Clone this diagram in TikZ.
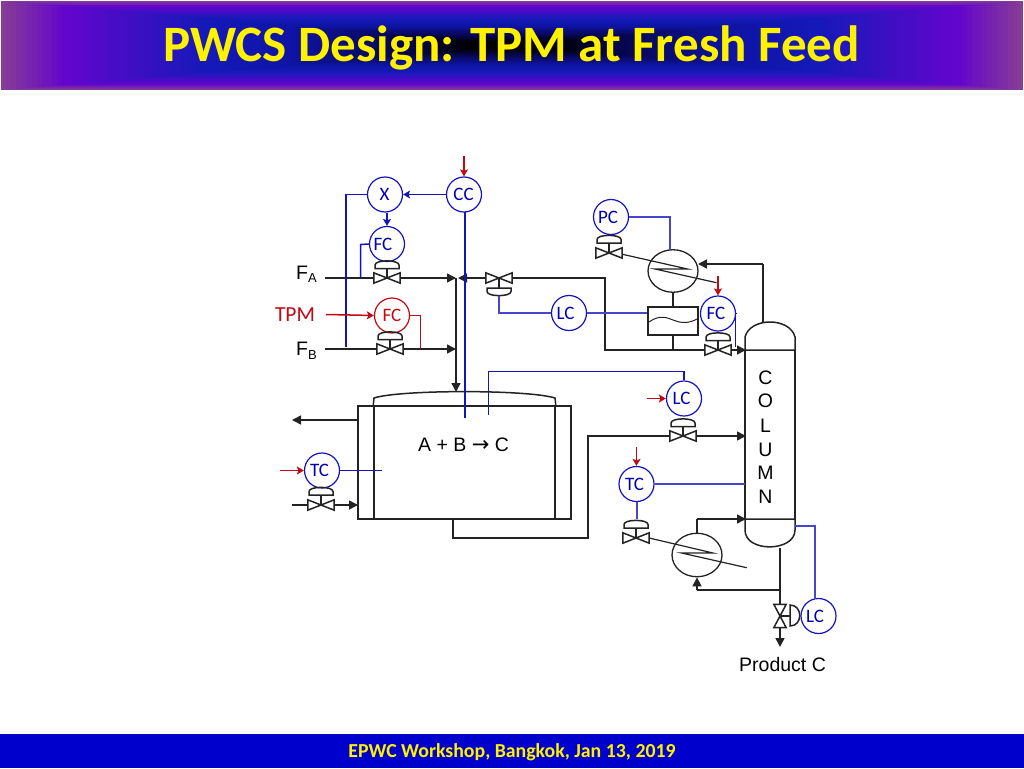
\documentclass[tikz,border=0pt]{standalone}
\usepackage{fontspec}
\setmainfont{Liberation Sans}
\newfontfamily\calfont{Carlito}
\newfontfamily\arrowfont{DejaVu Sans}
\usetikzlibrary{arrows.meta,shapes.geometric}
\definecolor{ctlblue}{RGB}{20,20,190}
\definecolor{ctllight}{RGB}{70,70,205}
\definecolor{txtblue}{RGB}{0,0,175}
\definecolor{ctlred}{RGB}{192,10,20}
\definecolor{pipeblk}{RGB}{35,35,35}
\definecolor{footblue}{RGB}{0,0,205}
\tikzset{
  x=1pt,y=-1pt,
  pipe/.style={draw=pipeblk,line width=1.5pt},
  feed/.style={pipe,-{Triangle[length=9pt,width=9pt]}},
  sig/.style={draw=ctlblue,line width=1.5pt},
  sigl/.style={draw=ctllight,line width=1.5pt},
  sigarrow/.style={sig,-{Stealth[length=7pt,width=8pt,inset=1.5pt]}},
  redarrow/.style={draw=ctlred,line width=1.5pt,-{Stealth[length=7pt,width=8pt,inset=1.5pt]}},
  redsig/.style={draw=ctlred,line width=1.5pt},
  ctrl/.style={circle,draw=ctlblue,line width=1.2pt,minimum size=35pt,inner sep=0pt,text=txtblue,font=\calfont\fontsize{19}{20}\selectfont},
  redctrl/.style={ctrl,draw=ctlred,text=ctlred},
  vbox/.style={inner sep=0pt,minimum width=26pt,minimum height=10pt},
  vvbox/.style={inner sep=0pt,minimum width=12pt,minimum height=23pt},
  lab/.style={font=\fontsize{19.5}{20}\selectfont,inner sep=0pt},
}
\newcommand\lft[2]{#2\kern#1pt}
\newcommand\valveH[3]{\node[vbox] (#1) at (#2,#3) {};
  \draw[pipe] (#1.north west)--(#1.south east)--(#1.north east)--(#1.south west)--cycle;}
\newcommand\valveV[3]{\node[vvbox] (#1) at (#2,#3) {};
  \draw[pipe] (#1.north west)--(#1.south east)--(#1.south west)--(#1.north east)--cycle;}
% actuator above valve: x, flat-bottom y
\newcommand\actUp[2]{\begin{scope}[shift={(#1,#2)}]
  \draw[pipe] (-12,0)--(12,0)--(12,-3.5) .. controls (12,-9) and (-12,-9) .. (-12,-3.5)--cycle;\end{scope}}
\newcommand\actDown[2]{\begin{scope}[shift={(#1,#2)}]
  \draw[pipe] (-12,0)--(12,0)--(12,3.5) .. controls (12,9) and (-12,9) .. (-12,3.5)--cycle;\end{scope}}
\newcommand\bannerseg[5]{% t0 t1 colour0 colour1 steps
  \foreach \i in {0,...,#5}{
    \pgfmathsetmacro\t{#1+(#2-#1)*\i/#5}
    \pgfmathsetmacro\pc{100*\i/#5}
    \colorlet{bgc}{#4!\pc!#3}
    \fill[bgc] ({1+\t*511},{1+\t*44.5}) rectangle ({1023-\t*511},{90-\t*44.5});
  }}
\definecolor{b0}{RGB}{135,60,150}
\definecolor{b1}{RGB}{100,5,205}
\definecolor{b2}{RGB}{20,25,185}
\definecolor{b3}{RGB}{15,20,165}
\definecolor{b4}{RGB}{5,5,70}
\definecolor{b5}{RGB}{0,0,0}
\begin{document}
\begin{tikzpicture}
\useasboundingbox (0,0) rectangle (1024,768);
\fill[white] (0,0) rectangle (1024,768);
% banner
\bannerseg{0}{0.12}{b0}{b1}{12}
\bannerseg{0.12}{0.4}{b1}{b2}{28}
\bannerseg{0.4}{0.56}{b2}{b3}{16}
\bannerseg{0.56}{0.8}{b3}{b4}{24}
\bannerseg{0.8}{0.92}{b4}{b5}{12}
\bannerseg{0.92}{1}{b5}{b5}{8}
\node[text=yellow,inner sep=0pt,font=\calfont\bfseries\fontsize{51}{52}\selectfont] (title) at (511.5,47.5) {PWCS Design: TPM at Fresh Feed};
% footer
\fill[footblue] (0,734) rectangle (1024,768);
\node[text=yellow,inner sep=0pt,font=\calfont\bfseries\fontsize{19.8}{20}\selectfont] (foot) at (512,752) {EPWC Workshop, Bangkok, Jan 13, 2019};

% controllers
\node[ctrl] (X) at (385,194.5) {\lft{1}{X}};
\node[ctrl] (CC) at (464,194.5) {\lft{1}{CC}};
\node[ctrl] (FCa) at (387,244) {\lft{8}{FC}};
\node[redctrl] (FCb) at (392,315.5) {FC};
\node[ctrl] (PC) at (611,217) {\lft{6}{PC}};
\node[ctrl] (LCa) at (569,313) {\lft{7}{LC}};
\node[ctrl] (FCc) at (718,313.5) {\lft{4}{FC}};
\node[ctrl] (LCb) at (684,398.5) {\lft{5}{LC}};
\node[ctrl] (TCa) at (322,470.5) {\lft{5}{TC}};
\node[ctrl] (TCb) at (636.5,484) {\lft{4}{TC}};
\node[ctrl] (LCc) at (818.5,616) {\lft{7}{LC}};

% valves + actuators
\valveH{VA}{387}{278}\actUp{387}{268.5}
\draw[pipe] (VA.center)--(387,268.5);
\valveH{VB}{390}{349}\actUp{390}{339.5}
\draw[pipe] (VB.center)--(390,339.5);
\valveH{VR}{499}{278}\actDown{499}{288}
\draw[pipe] (VR.center)--(499,288);
\valveH{VP}{609}{253}\actUp{609}{243}
\draw[pipe] (VP.center)--(609,243);
\valveH{VF}{718}{350}\actUp{718}{340.5}
\draw[pipe] (VF.center)--(718,340.5);
\valveH{VL}{683}{436}\actUp{683}{426.5}
\draw[pipe] (VL.center)--(683,426.5);
\valveH{VT}{321}{505}\actUp{321}{495}
\draw[pipe] (VT.center)--(321,495);
\valveH{VS}{636}{538}\actUp{636}{528}
\draw[pipe] (VS.center)--(636,528);
\valveV{VB2}{780}{616}
\draw[pipe] (790,605)--(790,626) .. controls (803,626) and (803,605) .. (790,605)--cycle;
\draw[pipe] (VB2.center)--(790,616);

% reactor
\node[draw=pipeblk,line width=1.5pt,inner sep=0pt,minimum width=213pt,minimum height=113pt] (jacket) at (464.5,462.5) {};
\node[draw=pipeblk,line width=1.5pt,inner sep=0pt,minimum width=181pt,minimum height=113pt] (reactor) at (464.5,462.5) {};
\draw[pipe] (reactor.north west)--(374,398) .. controls (400,389.5) and (528,389.5) .. (555,398)--(reactor.north east);
\node[lab] (rxn) at (463.5,445) {A + B {\arrowfont\fontsize{21}{21}\selectfont →} C};

% exchangers and drum
\node[draw=pipeblk,line width=1.3pt,ellipse,inner sep=0pt,minimum width=50pt,minimum height=42.5pt] (cond) at (673,271) {};
\node[draw=pipeblk,line width=1.3pt,ellipse,inner sep=0pt,minimum width=50pt,minimum height=43.5pt] (reb) at (697,555) {};
\node[draw=pipeblk,line width=1.5pt,inner sep=0pt,minimum width=50pt,minimum height=28pt] (drum) at (673,321) {};
\draw[pipeblk,line width=1pt] (649,322) .. controls (660,314) and (668,318) .. (673,320) .. controls (680,323) and (688,324) .. (697,319);

% column
\draw[pipe] (745,350)--(745,337) .. controls (750,317) and (790,317) .. (795,337)--(795,350)--cycle;
\draw[pipe] (745,350)--(745,519) (795,350)--(795,519);
\draw[pipe] (745,519)--(795,519)--(795,530) .. controls (795,552) and (745,553) .. (745,530)--cycle;
\coordinate (coltop) at (763,322);
\coordinate (colbot) at (780,547.5);
\foreach \L/\Y/\N in {C/378/l1,O/401/l2,L/426/l3,U/450/l4,M/473/l5,N/497/l6}{
  \node[lab] (\N) at (765.5,\Y) {\L};
}

% labels
\node[lab,anchor=west] (FAt) at (296,272.5) {F};
\node[lab,anchor=west,font=\fontsize{13}{14}\selectfont] (FAs) at (308,278.5) {A};
\node[lab,anchor=west] (FBt) at (296,349) {F};
\node[lab,anchor=west,font=\fontsize{13}{14}\selectfont] (FBs) at (308,355) {B};
\node[inner sep=0pt,text=ctlred,font=\calfont\fontsize{21.5}{22}\selectfont] (TPM) at (295,314.5) {TPM};
\node[lab] (prod) at (782.5,665) {Product C};

% free ends
\coordinate (fa0) at (325,278);
\coordinate (fb0) at (325,349);
\coordinate (j1) at (456,278);
\coordinate (j2) at (456,349);
\coordinate (j3) at (458,278);
\coordinate (cor1) at (605,278);
\coordinate (cor2) at (605,350);
\coordinate (colf) at (746,350);
\coordinate (rtop) at (456,392);
\coordinate (tpm0) at (326,314.5);
\coordinate (jkout) at (358,420);

% pipes
\draw[pipe] (fa0)--(VA.west);
\draw[feed] (VA.east)--(j1);
\draw[feed] (VR.west)--(j3);
\draw[pipe] (VR.east)--(cor1)--(cor2)--(VF.west);
\draw[feed] (VF.east)--(colf);
\draw[pipe] (fb0)--(VB.west);
\draw[feed] (VB.east)--(j2);
\draw[feed] (j1)--(rtop);
\draw[pipe] (cond.south)--(drum.north);
\draw[pipe] (drum.south)--(673,350);
\draw[pipe] (coltop)--(763,264);
\draw[feed] (763,264)--(698,264);
% condenser tube
\draw[pipeblk,line width=1.2pt] (622.5,254.3)--(687.5,269)--(655,269)--(716.5,282.7);
% reactor outlet to column
\draw[pipe] (453,519)--(453,538)--(588,538)--(588,436)--(VL.west);
\draw[feed] (VL.east)--(746,436);
% jacket
\draw[feed] (jkout)--(292,420);
\coordinate (jin) at (292,505);
\draw[pipe] (jin)--(VT.west);
\draw[feed] (VT.east)--(358,505);
% reboiler
\draw[pipeblk,line width=1.2pt] (VS.east)--(713,553)--(681.5,553)--(746.7,567.7);
\draw[pipe] (reb.north)--(697,519);
\draw[feed] (697,519)--(746,519);
\draw[pipe] (colbot)--(VB2.north);
\draw[feed] (VB2.south)--(780,647);
\draw[pipe] (780,590)--(697,590);
\draw[feed] (697,590)--(reb.south);

% signals
\draw[redarrow] ([yshift=20pt]CC.north)--(CC.north);
\draw[sigarrow] (CC.west)--(X.east);
\draw[sigarrow] (FCa.north |- X.south)--(FCa.north);
\draw[sig] (X.west)--(346,194.5)--(346,347);
\draw[sig] (FCa.west)--(360.5,244.5)--(360.5,278);
\draw[redsig] (FCb.east)--(420.5,315.5)--(420.5,349);
\draw[redarrow] (tpm0)--(FCb.west);
\draw[sig] (465,211.5)--(465,418);
\draw[sig] (488.5,415)--(488.5,371.5)--(684,371.5)--(LCb.north);
\draw[redarrow] ([xshift=-19pt]LCb.west)--(LCb.west);
\draw[redarrow] ([xshift=-24pt]TCa.west)--(TCa.west);
\draw[sig] (TCa.east)--(382,470.5);
\draw[sigl] (PC.east)--(670,217)--(670,250);
\draw[sigl] (LCa.east)--(drum.west |- LCa.east);
\draw[sigl] (LCa.west)--(499,313)--(499,296);
\draw[redarrow] ([yshift=19pt]FCc.north)--(FCc.north);
\draw[sig] (FCc.east)--(735.5,313.5)--(735.5,347);
\draw[redarrow] ([yshift=19pt]TCb.north)--(TCb.north);
\draw[sigl] (TCb.east)--(745,484);
\draw[sigl] (637,501.5)--(637,519);
\draw[sigl] (795,526)--(815,526)--(815,598.5);
\end{tikzpicture}
\end{document}
